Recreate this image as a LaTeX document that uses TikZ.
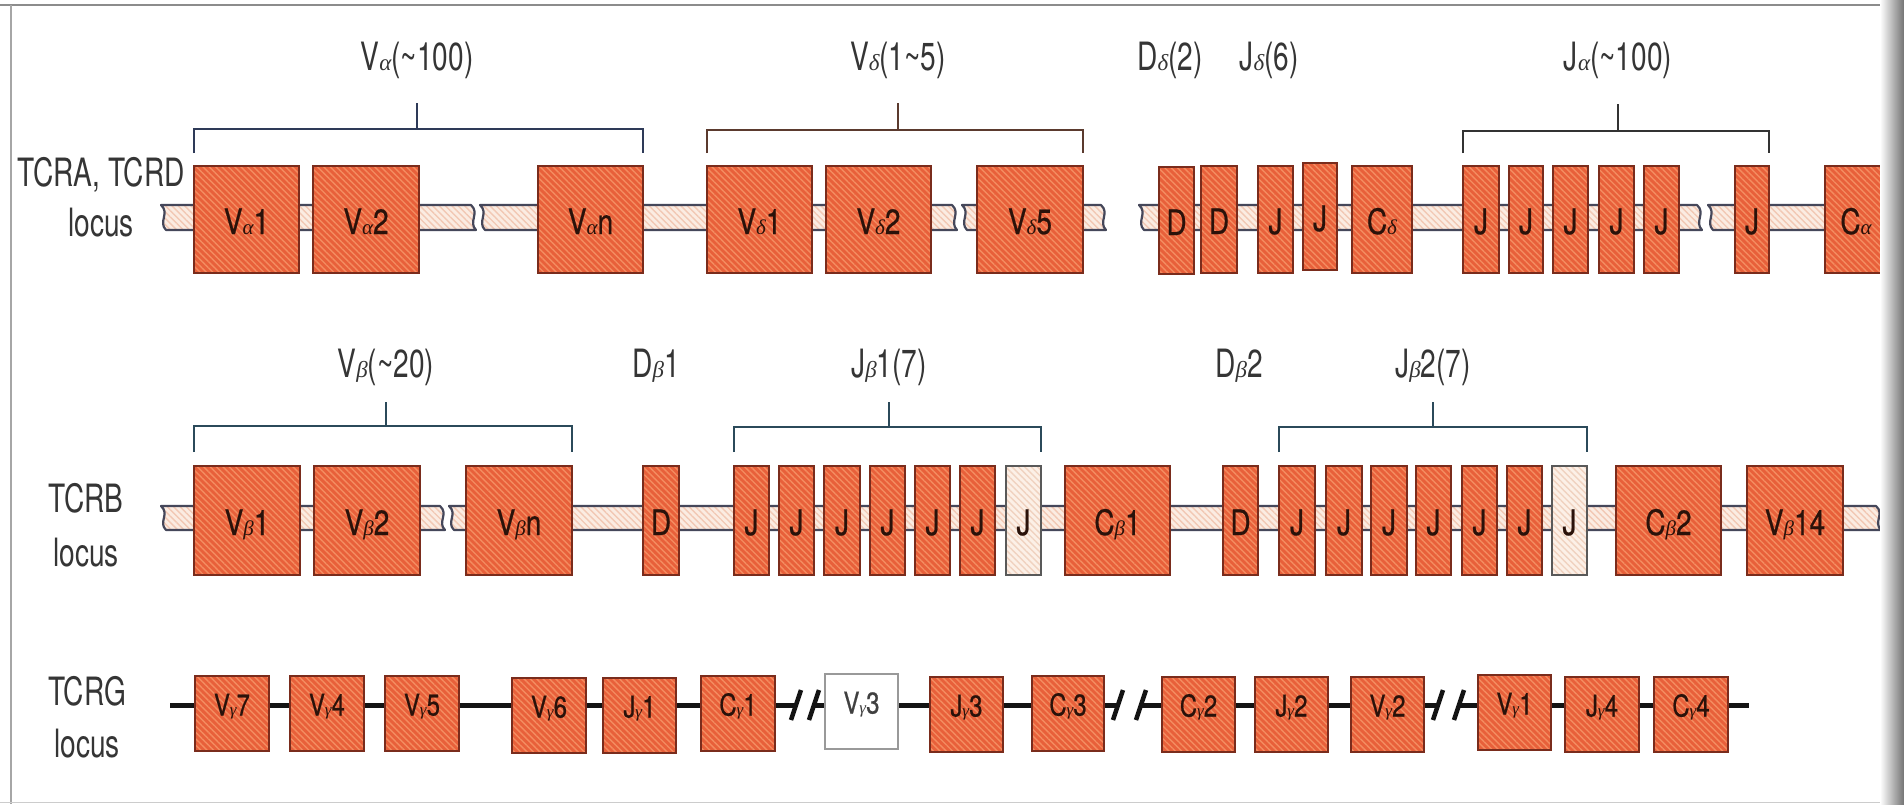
\documentclass[tikz,border=0pt]{standalone}
\usepackage{fontspec}
\setmainfont{TeX Gyre Heros}[FakeStretch=0.72]
\newfontfamily\boxfont{TeX Gyre Heros}[FakeStretch=0.8, FakeBold=0.6]
\newfontfamily\grk{Liberation Serif}
\usetikzlibrary{patterns.meta}

\definecolor{cExon}{HTML}{E8603A}
\definecolor{cExonHatch}{HTML}{F48C60}
\definecolor{cExonEdge}{HTML}{7A2C1C}
\definecolor{cPale}{HTML}{FCF0E7}
\definecolor{cPaleHatch}{HTML}{F0D2C0}
\definecolor{cChrom}{HTML}{FBECE2}
\definecolor{cChromHatch}{HTML}{F2C8B4}
\definecolor{cChromEdge}{HTML}{45475A}
\definecolor{cInk}{HTML}{353535}
\definecolor{cBoxInk}{HTML}{2A120A}
\definecolor{cNavy}{HTML}{2E3A58}
\definecolor{cBrown}{HTML}{5B3A2E}
\definecolor{cSlate}{HTML}{2B4A5A}

% small Greek letter inside gene names
\newcommand\gk[2]{{\grk\itshape\fontsize{#1}{#1}\selectfont #2}}

\tikzset{
  x=1pt, y=-1pt,
  hatch/.style={pattern={Lines[angle=-45,distance=4.5pt,line width=1.4pt]}},
  boxbase/.style={inner sep=0pt, outer sep=0pt, line width=1.5pt,
    font=\boxfont\fontsize{35}{35}\selectfont, text=cBoxInk,
    text height=29pt, text depth=-5pt},
  exon/.style={boxbase, draw=cExonEdge,
    preaction={fill=cExon}, preaction={hatch, pattern color=cExonHatch}},
  paleexon/.style={boxbase, draw=black!65,
    preaction={fill=cPale}, preaction={hatch, pattern color=cPaleHatch}},
  emptyexon/.style={boxbase, draw=black!40, fill=white, text=black!75},
  gsmall/.style={font=\boxfont\fontsize{30}{30}\selectfont, text height=21pt, text depth=17pt},
  chrom/.style={draw=cChromEdge, line width=2.2pt, line join=round,
    preaction={fill=cChrom}, preaction={hatch, pattern color=cChromHatch}},
  gline/.style={draw=black!92, line width=5pt},
  gslash/.style={draw=black!92, line width=4.5pt},
  brk/.style={line width=2.3pt},
  toplabel/.style={font=\fontsize{39}{39}\selectfont, text=cInk, inner sep=0pt, anchor=base},
  locuslabel/.style={text=cInk, inner sep=0pt, anchor=north, align=center},
}

% gene segment given by its left, right, top and bottom edges
\newcommand\gene[7][exon]{%
  \node[#1, minimum width={#4-#3}, minimum height={#6-#5}] (#2)
    at ({(#3+#4)/2},{(#5+#6)/2}) {#7};}

% stretch of chromosome with broken (wavy) ends
\newcommand\chrom[4]{%
  \draw[chrom] (#1,#3) -- (#2,#3)
    .. controls ({#2+9},{#3+8}) and ({#2-3},{#4-8}) .. ({#2+5},#4)
    -- ({#1+5},#4)
    .. controls ({#1-3},{#4-8}) and ({#1+9},{#3+8}) .. (#1,#3) -- cycle;}

\begin{document}
\begin{tikzpicture}
\useasboundingbox (0,0) rectangle (1904,804);
\fill[white] (0,0) rectangle (1904,804);

% page frame
\draw[color=black!45, line width=2pt] (0,5) -- (1897,5);
\draw[color=black!35, line width=1.5pt] (11,5) -- (11,804);
\draw[color=black!20, line width=1pt] (0,802) -- (1897,802);

% ---------------- TCRA / TCRD ----------------
\chrom{161}{471}{205}{230}
\chrom{480}{952}{205}{230}
\chrom{962}{1101}{205}{230}
\chrom{1139}{1697}{205}{230}
\chrom{1708}{1897}{205}{230}

\gene{va1}{194}{299}{166}{273}{V\gk{21}{α}1}
\gene{va2}{313}{419}{166}{273}{V\gk{21}{α}2}
\gene{van}{538}{643}{166}{273}{V\gk{21}{α}n}
\gene{vd1}{707}{812}{166}{273}{V\gk{21}{δ}1}
\gene{vd2}{826}{931}{166}{273}{V\gk{21}{δ}2}
\gene{vd5}{977}{1083}{166}{273}{V\gk{21}{δ}5}
\gene{dd1}{1159}{1194}{167}{274}{D}
\gene{dd2}{1201}{1237}{166}{273}{D}
\gene{jd1}{1258}{1293}{166}{273}{J}
\gene{jd2}{1303}{1337}{163}{270}{J}
\gene{cd}{1352}{1412}{166}{273}{C\gk{21}{δ}}
\gene{ja1}{1463}{1499}{166}{273}{J}
\gene{ja2}{1509}{1543}{166}{273}{J}
\gene{ja3}{1553}{1588}{166}{273}{J}
\gene{ja4}{1599}{1634}{166}{273}{J}
\gene{ja5}{1644}{1679}{166}{273}{J}
\gene{jan}{1735}{1769}{166}{273}{J}
\gene{ca}{1825}{1887}{166}{273}{C\gk{21}{α}}

\node[locuslabel, font=\fontsize{39}{50}\selectfont] (lA) at (101,157) {TCRA, TCRD\\locus};

\node[toplabel] (tVa) at (417,70) {V\gk{23}{α}(\textasciitilde100)};
\node[toplabel] (tVd) at (898,70) {V\gk{23}{δ}(1\textasciitilde5)};
\node[toplabel] (tDd) at (1170,70) {D\gk{23}{δ}(2)};
\node[toplabel] (tJd) at (1269,70) {J\gk{23}{δ}(6)};
\node[toplabel] (tJa) at (1618,70) {J\gk{23}{α}(\textasciitilde100)};

\draw[brk, cNavy] (va1.north west |- 0,153) -- (va1.north west |- 0,129)
  -- (van.north east |- 0,129) -- (van.north east |- 0,153);
\draw[brk, cNavy] (tVa.base |- 0,103) -- (tVa.base |- 0,129);
\draw[brk, cBrown] (vd1.north west |- 0,153) -- (vd1.north west |- 0,130)
  -- (vd5.north east |- 0,130) -- (vd5.north east |- 0,153);
\draw[brk, cBrown] (tVd.base |- 0,103) -- (tVd.base |- 0,130);
\draw[brk, black!80] (ja1.north west |- 0,153) -- (ja1.north west |- 0,131)
  -- (jan.north east |- 0,131) -- (jan.north east |- 0,153);
\draw[brk, black!80] (tJa.base |- 0,104) -- (tJa.base |- 0,131);

% ---------------- TCRB ----------------
\chrom{161}{440}{506}{530}
\chrom{449}{1876}{506}{530}

\gene{vb1}{194}{300}{466}{575}{V\gk{21}{β}1}
\gene{vb2}{314}{420}{466}{575}{V\gk{21}{β}2}
\gene{vbn}{466}{572}{466}{575}{V\gk{21}{β}n}
\gene{db1}{643}{679}{466}{575}{D}
\gene{jba}{734}{769}{466}{575}{J}
\gene{jbb}{779}{814}{466}{575}{J}
\gene{jbc}{824}{860}{466}{575}{J}
\gene{jbd}{870}{905}{466}{575}{J}
\gene{jbe}{915}{950}{466}{575}{J}
\gene{jbf}{960}{995}{466}{575}{J}
\gene[paleexon]{jbg}{1006}{1041}{466}{575}{J}
\gene{cb1}{1065}{1170}{466}{575}{C\gk{21}{β}1}
\gene{db2}{1223}{1258}{466}{575}{D}
\gene{jca}{1279}{1315}{466}{575}{J}
\gene{jcb}{1326}{1362}{466}{575}{J}
\gene{jcc}{1371}{1407}{466}{575}{J}
\gene{jcd}{1416}{1451}{466}{575}{J}
\gene{jce}{1462}{1497}{466}{575}{J}
\gene{jcf}{1507}{1542}{466}{575}{J}
\gene[paleexon]{jcg}{1552}{1587}{466}{575}{J}
\gene{cb2}{1616}{1721}{466}{575}{C\gk{21}{β}2}
\gene{vb14}{1747}{1843}{466}{575}{V\gk{21}{β}14}

\node[locuslabel, font=\fontsize{39}{54}\selectfont] (lB) at (86,483) {TCRB\\locus};

\node[toplabel] (tVb) at (386,377) {V\gk{23}{β}(\textasciitilde20)};
\node[toplabel] (tDb1) at (656,377) {D\gk{23}{β}1};
\node[toplabel] (tJb1) at (889,377) {J\gk{23}{β}1(7)};
\node[toplabel] (tDb2) at (1239,377) {D\gk{23}{β}2};
\node[toplabel] (tJb2) at (1433,377) {J\gk{23}{β}2(7)};

\draw[brk, cSlate] (vb1.north west |- 0,452) -- (vb1.north west |- 0,426)
  -- (vbn.north east |- 0,426) -- (vbn.north east |- 0,452);
\draw[brk, cSlate] (tVb.base |- 0,402) -- (tVb.base |- 0,426);
\draw[brk, cSlate] (jba.north west |- 0,452) -- (jba.north west |- 0,427)
  -- (jbg.north east |- 0,427) -- (jbg.north east |- 0,452);
\draw[brk, cSlate] (tJb1.base |- 0,402) -- (tJb1.base |- 0,427);
\draw[brk, cSlate] (jca.north west |- 0,452) -- (jca.north west |- 0,427)
  -- (jcg.north east |- 0,427) -- (jcg.north east |- 0,452);
\draw[brk, cSlate] (tJb2.base |- 0,402) -- (tJb2.base |- 0,427);

% ---------------- TCRG ----------------
\coordinate (g0) at (170,705);
\coordinate (s1) at (796,705);  \coordinate (s2) at (814,705);
\coordinate (s3) at (1118,705); \coordinate (s4) at (1141,705);
\coordinate (s5) at (1438,705); \coordinate (s6) at (1459,705);
\coordinate (g1) at (1749,705);
\draw[gline] (g0) -- (s1);
\draw[gline] (s2) -- (s3);
\draw[gline] (s4) -- (s5);
\draw[gline] (s6) -- (g1);
\foreach \s in {s1,s2,s3,s4,s5,s6}
  \draw[gslash] ([shift={(-5pt,-15pt)}]\s) -- ([shift={(5pt,15pt)}]\s);

\gene[exon,gsmall]{vg7}{195}{269}{676}{751}{V\gk{17}{γ}7}
\gene[exon,gsmall]{vg4}{290}{364}{676}{751}{V\gk{17}{γ}4}
\gene[exon,gsmall]{vg5}{385}{459}{676}{751}{V\gk{17}{γ}5}
\gene[exon,gsmall]{vg6}{512}{586}{678}{753}{V\gk{17}{γ}6}
\gene[exon,gsmall]{jg1}{603}{676}{678}{753}{J\gk{17}{γ}1}
\gene[exon,gsmall]{cg1}{701}{775}{676}{751}{C\gk{17}{γ}1}
\gene[emptyexon,gsmall]{vg3}{825}{898}{674}{749}{V\gk{17}{γ}3}
\gene[exon,gsmall]{jg3}{930}{1003}{677}{752}{J\gk{17}{γ}3}
\gene[exon,gsmall]{cg3}{1032}{1104}{676}{751}{C\gk{17}{γ}3}
\gene[exon,gsmall]{cg2}{1162}{1235}{677}{752}{C\gk{17}{γ}2}
\gene[exon,gsmall]{jg2}{1255}{1328}{677}{752}{J\gk{17}{γ}2}
\gene[exon,gsmall]{vg2}{1351}{1424}{677}{752}{V\gk{17}{γ}2}
\gene[exon,gsmall]{vg1}{1478}{1551}{675}{750}{V\gk{17}{γ}1}
\gene[exon,gsmall]{jg4}{1565}{1639}{677}{752}{J\gk{17}{γ}4}
\gene[exon,gsmall]{cg4}{1654}{1728}{677}{752}{C\gk{17}{γ}4}

\node[locuslabel, font=\fontsize{39}{52}\selectfont] (lG) at (87,676) {TCRG\\locus};

% shadow of the page fold at the right
\shade[left color=white, right color=black!55] (1880,0) rectangle (1904,804);
\end{tikzpicture}
\end{document}
